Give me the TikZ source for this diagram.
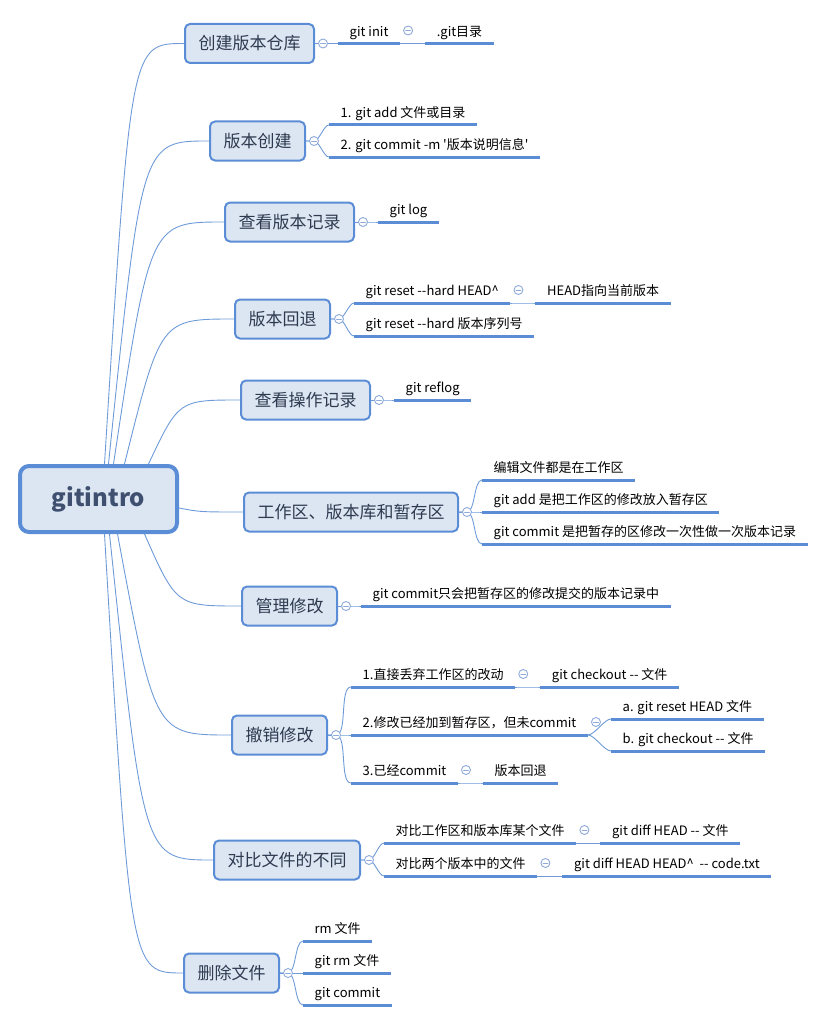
\documentclass[tikz,border=0pt]{standalone}
\usepackage{fontspec}
\newfontfamily\cjk{Noto Sans CJK SC}
\usepackage{tikz}
\usetikzlibrary{calc}

\definecolor{randblauw}{HTML}{5B8DD6}
\definecolor{vulblauw}{HTML}{DCE6F2}
\definecolor{lijnblauw}{HTML}{6E9BD8}
\definecolor{knopblauw}{HTML}{8EAADB}
\definecolor{tekstdonker}{HTML}{2E3A50}
\definecolor{wortel}{HTML}{3E4F70}

\begin{document}
\begin{tikzpicture}[x=1pt, y=-1pt, line cap=round, line join=round,
    wortelbox/.style={draw=randblauw, line width=4pt, fill=vulblauw, rounded corners=9pt,
      minimum width=157pt, minimum height=66pt, text=wortel,
      font=\cjk\bfseries\fontsize{24}{28}\selectfont},
    tak/.style={draw=randblauw, line width=2pt, fill=vulblauw, rounded corners=5pt, anchor=west,
      minimum height=39pt, inner xsep=13.5pt, text=tekstdonker,
      font=\cjk\fontsize{17}{20}\selectfont},
    blad/.style={anchor=south west, inner xsep=11.5pt, inner ysep=4pt,
      text height=10pt, text depth=3pt, font=\cjk\fontsize{13}{16}\selectfont},
    lijn/.style={draw=lijnblauw, line width=0.9pt},
    onderlijn/.style={draw=randblauw, line width=3pt, line cap=butt},
    knop/.style={circle, draw=knopblauw, fill=white, line width=0.9pt, minimum size=9pt, inner sep=0pt,
      path picture={\draw[knopblauw, line width=0.9pt]
        ([xshift=-2.4pt]path picture bounding box.center) -- ([xshift=2.4pt]path picture bounding box.center);}}]

      \useasboundingbox (0,0) rectangle (829,1022);

      % Wortel
      \node[wortelbox] (root) at (98.5,499) {gitintro};

      % Hoofdtakken
      \foreach \tk/\px/\py/\lab in {t1/184/43.5/创建版本仓库, t2/209/141/版本创建, t3/224/222/查看版本记录,
          t4/234/319/版本回退, t5/240/400/查看操作记录, t6/243/512/工作区、版本库和暂存区,
          t7/241/606/管理修改, t8/231/735/撤销修改, t9/213/860/对比文件的不同, t10/183/973/删除文件}
        \node[tak] (\tk) at (\px,\py) {\lab};

      % Verbindingen vanuit de wortel
      \foreach \tk/\kant/\dx/\dy in {t1/north/6/0, t2/north/10/0, t3/north/15/0, t4/north/26/0,
          t5/north/50/0, t6/east/0/-9, t7/south/46/0, t8/south/19/0, t9/south/11/0, t10/south/6/0}
        \draw[lijn] let \p1=([xshift=\dx pt, yshift=\dy pt]root.\kant), \p2=(\tk.west) in
          (\p1) .. controls ({\x1+0.33*(\x2-\x1)},\y2) .. (\p2);

      % Bladen
      \node[blad] (s11)  at ([xshift=23pt]t1.east) {git init};
      \node[blad] (s111) at ([xshift=25pt]s11.south east) {.git目录};
      \node[blad] (s21)  at ([xshift=23pt, yshift=16pt]t2.east) {1. git add 文件或目录};
      \node[blad] (s22)  at ([xshift=23pt, yshift=-16pt]t2.east) {2. git commit -m '版本说明信息'};
      \node[blad] (s31)  at ([xshift=23pt]t3.east) {git log};
      \node[blad] (s41)  at ([xshift=23pt, yshift=16pt]t4.east) {git reset --hard HEAD\textasciicircum};
      \node[blad] (s411) at ([xshift=25pt]s41.south east) {HEAD指向当前版本};
      \node[blad] (s42)  at ([xshift=23pt, yshift=-17pt]t4.east) {git reset --hard 版本序列号};
      \node[blad] (s51)  at ([xshift=23pt]t5.east) {git reflog};
      \node[blad] (s61)  at ([xshift=23pt, yshift=32pt]t6.east) {编辑文件都是在工作区};
      \node[blad] (s62)  at ([xshift=23pt]t6.east) {git add 是把工作区的修改放入暂存区};
      \node[blad] (s63)  at ([xshift=23pt, yshift=-32pt]t6.east) {git commit 是把暂存的区修改一次性做一次版本记录};
      \node[blad] (s71)  at ([xshift=23pt]t7.east) {git commit只会把暂存区的修改提交的版本记录中};
      \node[blad] (s81)  at ([xshift=23pt, yshift=48pt]t8.east) {1.直接丢弃工作区的改动};
      \node[blad] (s811) at ([xshift=25pt]s81.south east) {git checkout -- 文件};
      \node[blad] (s82)  at ([xshift=23pt]t8.east) {2.修改已经加到暂存区，但未commit};
      \node[blad] (s821) at ([xshift=23pt, yshift=16pt]s82.south east) {a. git reset HEAD 文件};
      \node[blad] (s822) at ([xshift=23pt, yshift=-16pt]s82.south east) {b. git checkout -- 文件};
      \node[blad] (s83)  at ([xshift=23pt, yshift=-48pt]t8.east) {3.已经commit};
      \node[blad] (s831) at ([xshift=25pt]s83.south east) {版本回退};
      \node[blad] (s91)  at ([xshift=23pt, yshift=17pt]t9.east) {对比工作区和版本库某个文件};
      \node[blad] (s911) at ([xshift=24pt]s91.south east) {git diff HEAD -- 文件};
      \node[blad] (s92)  at ([xshift=23pt, yshift=-16pt]t9.east) {对比两个版本中的文件};
      \node[blad] (s921) at ([xshift=25pt]s92.south east) {git diff HEAD HEAD\textasciicircum\ \ -- code.txt};
      \node[blad] (s101) at ([xshift=23pt, yshift=32pt]t10.east) {rm 文件};
      \node[blad] (s102) at ([xshift=23pt]t10.east) {git rm 文件};
      \node[blad] (s103) at ([xshift=23pt, yshift=-32pt]t10.east) {git commit};

      % Verbindingen naar de bladen
      \foreach \tk/\s in {t1/s11, t2/s21, t2/s22, t3/s31, t4/s41, t4/s42, t5/s51, t6/s61, t6/s62,
          t6/s63, t7/s71, t8/s81, t8/s82, t8/s83, t9/s91, t9/s92, t10/s101, t10/s102, t10/s103}
        \draw[lijn] (\tk.east) -- ++(8pt,0) to[out=0, in=180, looseness=0.6] (\s.south west);
      \foreach \a/\b in {s11/s111, s41/s411, s81/s811, s82/s821, s82/s822, s83/s831, s91/s911, s92/s921}
        \draw[lijn] (\a.south east) to[out=0, in=180, looseness=0.6] (\b.south west);

      % Onderstrepingen
      \foreach \s in {s11, s111, s21, s22, s31, s41, s411, s42, s51, s61, s62, s63, s71, s81, s811,
          s82, s821, s822, s83, s831, s91, s911, s92, s921, s101, s102, s103}
        \draw[onderlijn] (\s.south west) -- (\s.south east);

      % Inklapknoppen
      \foreach \i in {1,...,10}
        \node[knop] (kt\i) at ([xshift=8pt]t\i.east) {};
      \foreach \s in {s11, s41, s81, s82, s83, s91, s92}
        \node[knop] (k\s) at ([xshift=8pt, yshift=13pt]\s.south east) {};
    \end{tikzpicture}
\end{document}
